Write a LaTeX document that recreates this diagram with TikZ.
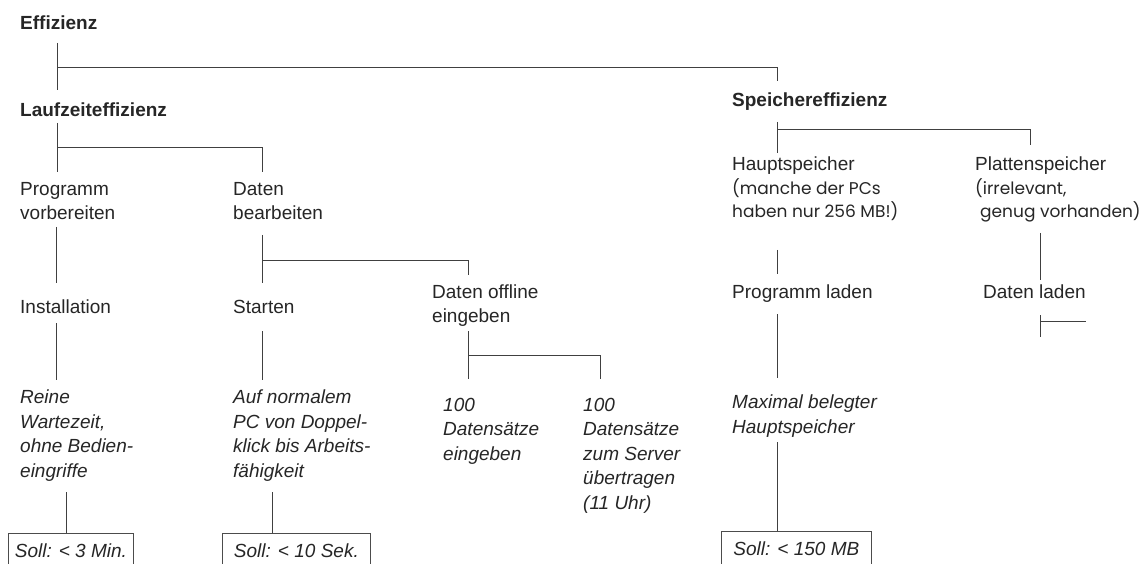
\documentclass[tikz,border=0pt]{standalone}
\usepackage{fontspec}
\setmainfont{Liberation Sans}
\newfontfamily\comicfont{Poppins}
\begin{document}
\begin{tikzpicture}[x=1pt,y=-1pt,
  lbl/.style={anchor=north west, inner sep=0pt, align=left, text=black!85, font=\fontsize{19}{24}\selectfont},
  hd/.style={lbl, font=\fontsize{19}{24}\selectfont\bfseries},
  itl/.style={lbl, font=\fontsize{19}{24.5}\selectfont\itshape},
  comictext/.style={lbl, font=\fontsize{19}{23.5}\selectfont},
  sollbox/.style={draw=black!70, line width=0.8pt, anchor=north west, minimum height=34pt, inner sep=0pt, font=\fontsize{19}{22}\selectfont\itshape, text=black!85},
  ln/.style={draw=black!75, line width=0.9pt}]
\useasboundingbox (0,0) rectangle (1146,564);
\clip (0,0) rectangle (1146,564);
\fill[white] (0,0) rectangle (1146,564);

% nodes
\node[hd] (eff) at (20,16) {Effizienz};
\node[hd] (lauf) at (20,103) {Laufzeiteffizienz};
\node[hd] (spe) at (732,93) {Speichereffizienz};
\node[lbl] (prog) at (20,182) {Programm\\vorbereiten};
\node[lbl] (dat) at (233,182) {Daten\\bearbeiten};
\node[lbl] (inst) at (20,300) {Installation};
\node[lbl] (start) at (233,300) {Starten};
\node[lbl] (doff) at (432,285) {Daten offline\\eingeben};
\node[itl] (reine) at (20,390) {Reine\\Wartezeit,\\ohne Bedien-\\eingriffe};
\node[itl] (auf) at (233,390) {Auf normalem\\PC von Doppel-\\klick bis Arbeits-\\f\"ahigkeit};
\node[itl] (eing) at (443,398) {100\\Datens\"atze\\eingeben};
\node[itl] (uebt) at (583,398) {100\\Datens\"atze\\zum Server\\\"ubertragen\\(11 Uhr)};
\node[comictext] (haupt) at (732,157) {Hauptspeicher\\{\comicfont\fontsize{17}{23.5}\selectfont (manche der PCs}\\{\comicfont\fontsize{17}{23.5}\selectfont haben nur 256 MB!)}};
\node[comictext] (platt) at (975,157) {Plattenspeicher\\{\comicfont\fontsize{17}{23.5}\selectfont (irrelevant,}\\{\comicfont\fontsize{17}{23.5}\selectfont\hspace*{5pt}genug vorhanden)}};
\node[lbl] (pl) at (732,285) {Programm laden};
\node[lbl] (dl) at (983,285) {Daten laden};
\node[itl] (maxh) at (732,395) {Maximal belegter\\Hauptspeicher};
\node[sollbox, minimum width=125pt] (s1) at (8,533) {Soll: < 3 Min.};
\node[sollbox, minimum width=148pt] (s2) at (222,533) {Soll: < 10 Sek.};
\node[sollbox, minimum width=150pt] (s3) at (721,531) {Soll: < 150 MB};

% branch coordinates
\coordinate (a1) at (57,43);  \coordinate (a2) at (57,90);
\coordinate (a3) at (57,67);  \coordinate (a4) at (777,67); \coordinate (a5) at (777,81);
\coordinate (b1) at (57,123); \coordinate (b2) at (57,172);
\coordinate (b3) at (57,147); \coordinate (b4) at (262,147); \coordinate (b5) at (262,172);
\coordinate (c1) at (56,227); \coordinate (c2) at (56,283);
\coordinate (c3) at (56,323); \coordinate (c4) at (56,380);
\coordinate (d1) at (262,235); \coordinate (d2) at (262,283);
\coordinate (d3) at (262,260); \coordinate (d4) at (468,260); \coordinate (d5) at (468,275);
\coordinate (e1) at (262,331); \coordinate (e2) at (262,380);
\coordinate (f1) at (468,331); \coordinate (f2) at (468,379);
\coordinate (f3) at (468,355); \coordinate (f4) at (600,355); \coordinate (f5) at (600,379);
\coordinate (g1) at (66,492);
\coordinate (h1) at (272,492);
\coordinate (k1) at (777,122); \coordinate (k2) at (777,153);
\coordinate (k3) at (777,129); \coordinate (k4) at (1030,129); \coordinate (k5) at (1030,145);
\coordinate (m1) at (777,250); \coordinate (m2) at (777,274);
\coordinate (n1) at (777,314); \coordinate (n2) at (777,378);
\coordinate (p1) at (777,442);
\coordinate (q1) at (1040,233); \coordinate (q2) at (1040,280);
\coordinate (r1) at (1040,315); \coordinate (r2) at (1040,337);
\coordinate (r3) at (1040,321); \coordinate (r4) at (1086,321);

% connectors
\draw[ln] (a1) -- (a2); \draw[ln] (a3) -- (a4) -- (a5);
\draw[ln] (b1) -- (b2); \draw[ln] (b3) -- (b4) -- (b5);
\draw[ln] (c1) -- (c2);
\draw[ln] (c3) -- (c4);
\draw[ln] (d1) -- (d2); \draw[ln] (d3) -- (d4) -- (d5);
\draw[ln] (e1) -- (e2);
\draw[ln] (f1) -- (f2); \draw[ln] (f3) -- (f4) -- (f5);
\draw[ln] (g1) -- (g1 |- s1.north);
\draw[ln] (h1) -- (h1 |- s2.north);
\draw[ln] (k1) -- (k2); \draw[ln] (k3) -- (k4) -- (k5);
\draw[ln] (m1) -- (m2);
\draw[ln] (n1) -- (n2);
\draw[ln] (p1) -- (p1 |- s3.north);
\draw[ln] (q1) -- (q2);
\draw[ln] (r1) -- (r2); \draw[ln] (r3) -- (r4);
\end{tikzpicture}
\end{document}
